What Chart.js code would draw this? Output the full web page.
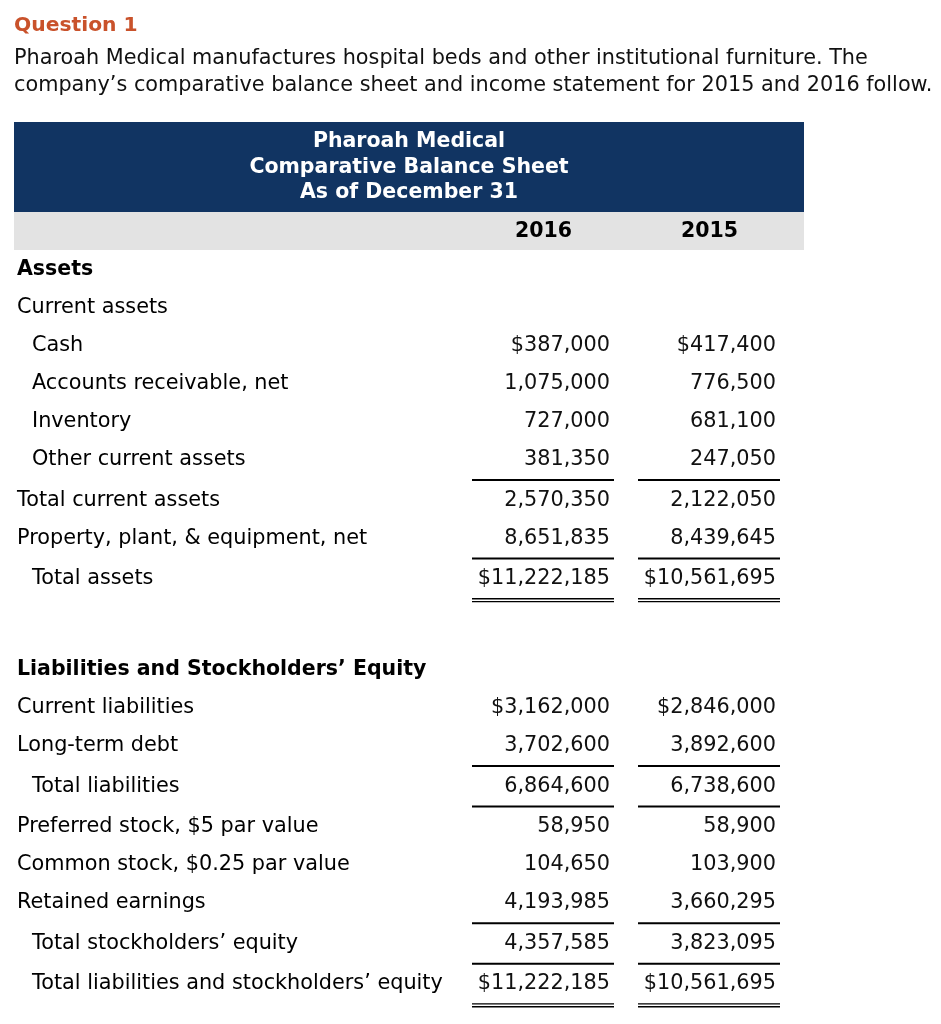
<!DOCTYPE html>
<html>
<head>
<meta charset="utf-8">
<script src="https://cdn.jsdelivr.net/npm/chart.js@4.4.1/dist/chart.umd.min.js"></script>
<style>
  html, body { margin: 0; padding: 0; background: #ffffff; }
  body { width: 941px; height: 1024px; position: relative; overflow: hidden; font-family: "DejaVu Sans", Verdana, sans-serif; }
  #sheet { position: absolute; left: 0; top: 0; }
  #question { position: absolute; left: 14px; top: 11px; font-size: 20.3px; line-height: 27px; font-weight: bold; color: #c9522b; white-space: nowrap; z-index: 2; }
  #intro { position: absolute; left: 14px; top: 44px; font-size: 20.8px; line-height: 27px; color: #111111; white-space: nowrap; z-index: 2; }
</style>
</head>
<body>
<div id="question">Question 1</div>
<div id="intro">Pharoah Medical manufactures hospital beds and other institutional furniture. The<br>company’s comparative balance sheet and income statement for 2015 and 2016 follow.</div>
<canvas id="sheet" width="941" height="1024"></canvas>
<script>
// ---------------- data ----------------
const headerLines = ['Pharoah Medical', 'Comparative Balance Sheet', 'As of December 31'];
const columnYears = ['2016', '2015'];
const rowLabels = [
  'Assets',
  'Current assets',
  'Cash',
  'Accounts receivable, net',
  'Inventory',
  'Other current assets',
  'Total current assets',
  'Property, plant, & equipment, net',
  'Total assets',
  'Liabilities and Stockholders’ Equity',
  'Current liabilities',
  'Long-term debt',
  'Total liabilities',
  'Preferred stock, $5 par value',
  'Common stock, $0.25 par value',
  'Retained earnings',
  'Total stockholders’ equity',
  'Total liabilities and stockholders’ equity'
];
const values2016 = [null, null, 387000, 1075000, 727000, 381350, 2570350, 8651835, 11222185,
                    null, 3162000, 3702600, 6864600, 58950, 104650, 4193985, 4357585, 11222185];
const values2015 = [null, null, 417400, 776500, 681100, 247050, 2122050, 8439645, 10561695,
                    null, 2846000, 3892600, 6738600, 58900, 103900, 3660295, 3823095, 10561695];

// ---------------- styling / layout ----------------
const rowKind = ['head', 'top', 'sub', 'sub', 'sub', 'sub', 'top', 'top', 'sub',
                 'head', 'top', 'top', 'sub', 'top', 'top', 'top', 'sub', 'sub'];
const dollarRows = [2, 8, 10, 17];
const ruleBelow = { 5: 1, 7: 1, 8: 2, 11: 1, 12: 1, 15: 1, 16: 1, 17: 2 };
const sectionStart = 9;
const ROW_PX = 38, FIRST_BASELINE = 275, RULE_EXTRA = 2.6 / ROW_PX, SECTION_GAP = 1.32;
const LABEL_X = { head: 17, top: 17, sub: 32 };
const COLUMN_RIGHT = [610, 776];
const FONT = '"DejaVu Sans", Verdana, sans-serif';
const REG = '20.8px ' + FONT;
const BOLD = 'bold 20.5px ' + FONT;
const INK = '#111111';

// row positions in "row units" on the y scale
const rowPos = [];
(function () {
  let p = 0;
  for (let i = 0; i < rowLabels.length; i++) {
    if (i > 0) p += 1;
    if (i > 0 && ruleBelow[i - 1]) p += RULE_EXTRA;
    if (i === sectionStart) p += SECTION_GAP;
    rowPos.push(p);
  }
})();

const fmt = (v, i) => (dollarRows.includes(i) ? '$' : '') + v.toLocaleString('en-US');

const labelData = rowLabels.map((t, i) => ({ x: LABEL_X[rowKind[i]], y: rowPos[i], row: i }));
const colData = (vals, c) => vals.map((v, i) => v == null ? null : ({ x: COLUMN_RIGHT[c], y: rowPos[i], row: i, v: v }))
                                 .filter(d => d !== null);

const tablePlugin = {
  id: 'balanceSheet',
  beforeDatasetsDraw(chart) {
    const ctx = chart.ctx;
    ctx.save();
    // title band
    ctx.fillStyle = '#113462';
    ctx.fillRect(14, 122, 790, 90);
    ctx.fillStyle = '#e3e3e3';
    ctx.fillRect(14, 212, 790, 38);
    ctx.fillStyle = '#ffffff';
    ctx.font = BOLD;
    ctx.textAlign = 'center';
    ctx.textBaseline = 'alphabetic';
    headerLines.forEach((t, k) => ctx.fillText(t, 409, 147 + k * 25.5));
    ctx.fillStyle = '#000000';
    columnYears.forEach((t, c) => {
      const x = chart.scales.x.getPixelForValue(COLUMN_RIGHT[c]) - 66.5;
      ctx.fillText(t, x, 237);
    });
    ctx.restore();
  },
  afterDatasetsDraw(chart) {
    const ctx = chart.ctx;
    ctx.save();
    ctx.textBaseline = 'alphabetic';
    chart.data.datasets.forEach((ds, di) => {
      const meta = chart.getDatasetMeta(di);
      meta.data.forEach((el, j) => {
        const raw = ds.data[j];
        const i = raw.row;
        if (ds.role === 'labels') {
          ctx.font = rowKind[i] === 'head' ? BOLD : REG;
          ctx.fillStyle = '#000000';
          ctx.textAlign = 'left';
          ctx.fillText(rowLabels[i], el.x, el.y);
        } else {
          ctx.font = REG;
          ctx.fillStyle = INK;
          ctx.textAlign = 'right';
          ctx.fillText(fmt(raw.v, i), el.x, el.y);
          const rule = ruleBelow[i];
          if (rule) {
            ctx.strokeStyle = '#000000';
            const x0 = el.x - 138, x1 = el.x + 4;
            if (rule === 1) {
              ctx.lineWidth = 2;
              ctx.beginPath(); ctx.moveTo(x0, el.y + 15); ctx.lineTo(x1, el.y + 15); ctx.stroke();
            } else {
              ctx.lineWidth = 1.4;
              ctx.beginPath(); ctx.moveTo(x0, el.y + 14.5); ctx.lineTo(x1, el.y + 14.5); ctx.stroke();
              ctx.beginPath(); ctx.moveTo(x0, el.y + 17.4); ctx.lineTo(x1, el.y + 17.4); ctx.stroke();
            }
          }
        }
      });
    });
    ctx.restore();
  }
};

const yMin = -FIRST_BASELINE / ROW_PX;
new Chart(document.getElementById('sheet'), {
  type: 'scatter',
  data: {
    datasets: [
      { label: 'Line item', role: 'labels', data: labelData, pointRadius: 0, pointHoverRadius: 0 },
      { label: columnYears[0], role: 'values', data: colData(values2016, 0), pointRadius: 0, pointHoverRadius: 0 },
      { label: columnYears[1], role: 'values', data: colData(values2015, 1), pointRadius: 0, pointHoverRadius: 0 }
    ]
  },
  options: {
    responsive: false,
    animation: false,
    events: [],
    layout: { padding: 0 },
    plugins: { legend: { display: false }, tooltip: { enabled: false }, title: { display: false } },
    scales: {
      x: { type: 'linear', display: false, min: 0, max: 941, bounds: 'data' },
      y: { type: 'linear', display: false, reverse: true, min: yMin, max: yMin + 1024 / ROW_PX, bounds: 'data' }
    }
  },
  plugins: [tablePlugin]
});
</script>
</body>
</html>
